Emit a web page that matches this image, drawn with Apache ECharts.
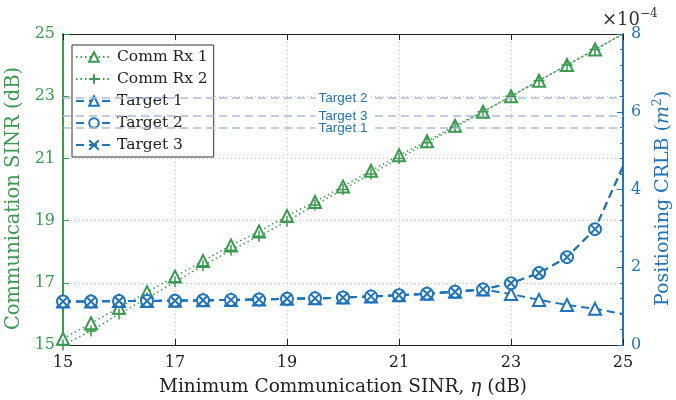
<!DOCTYPE html>
<html><head><meta charset="utf-8">
<script src="https://cdn.jsdelivr.net/npm/echarts@6/dist/echarts.min.js"></script>
<style>html,body{margin:0;padding:0;background:#fff}#c{width:676px;height:400px}</style>
</head><body><div id="c"></div>
<script>
// x values: minimum communication SINR eta (dB)
const eta = [15,15.5,16,16.5,17,17.5,18,18.5,19,19.5,20,20.5,21,21.5,22,22.5,23,23.5,24,24.5,25];
// Communication SINR (dB)
const commRx1 = [15.2,15.7,16.2,16.7,17.2,17.7,18.2,18.65,19.15,19.6,20.1,20.6,21.1,21.55,22.05,22.5,23.0,23.5,24.0,24.5,25.0];
const commRx2 = [15.0,15.45,16.0,16.5,17.03,17.55,18.05,18.5,18.98,19.5,20.0,20.5,21.0,21.5,22.0,22.5,23.0,23.5,24.0,24.5,25.0];
// Positioning CRLB (x1e-4 m^2)
const target1 = [1.12,1.12,1.13,1.13,1.14,1.15,1.16,1.17,1.19,1.2,1.22,1.25,1.28,1.32,1.37,1.43,1.31,1.16,1.03,0.93,0.80];
const target2 = [1.12,1.12,1.13,1.13,1.14,1.15,1.16,1.17,1.19,1.2,1.22,1.25,1.28,1.32,1.37,1.43,1.59,1.85,2.26,2.98,4.6];
const target3 = [1.12,1.12,1.13,1.13,1.14,1.15,1.16,1.17,1.19,1.2,1.22,1.25,1.28,1.32,1.37,1.43,1.59,1.85,2.26,2.98,4.6];
// target CRLB requirements (x1e-4 m^2)
const targetNames = ['Target 1','Target 2','Target 3'];
const targetLevels = [5.58, 6.35, 5.89];

const GREEN = '#3a9a4e', BLUE = '#1f74bd', SERIF = 'DejaVu Serif';
const PLUS = 'path://M0,-1L0,1M-1,0L1,0';
const CROSS = 'path://M-1,-1L1,1M-1,1L1,-1';

function pts(ys){
  return eta.map((x,i)=> i===eta.length-1 ? {value:[x,ys[i]], symbol:'none'} : [x,ys[i]]);
}
const chart = echarts.init(document.getElementById('c'), null, {renderer:'canvas'});
const dotted = {type:[1.5,3], width:1.5, color:GREEN};
const dashed = {type:[8,5], width:2, color:BLUE};
chart.setOption({
  animation:false,
  textStyle:{fontFamily:SERIF},
  title:{text:'×10{s|−4}', left:597, top:3, textStyle:{fontFamily:SERIF, fontSize:18, fontWeight:'normal', color:'#333', rich:{s:{fontSize:12, verticalAlign:'top', padding:[0,0,12,0], fontFamily:SERIF, color:'#333'}}}},
  grid:{left:63, right:53, top:34, bottom:55, outerBoundsMode:'none'},
  legend:{
    orient:'vertical', left:72, top:45, itemWidth:36, itemHeight:12, itemGap:6,
    padding:[4,6,4,3], backgroundColor:'#fff', borderColor:'#333', borderWidth:1,
    textStyle:{fontFamily:SERIF, fontSize:15.5, color:'#222'},
    data:['Comm Rx 1','Comm Rx 2','Target 1','Target 2','Target 3']
  },
  xAxis:[{
    type:'value', min:15, max:25, interval:2, position:'bottom',
    name:'Minimum Communication SINR, {i|η} (dB)', nameLocation:'middle', nameGap:33,
    nameTextStyle:{fontFamily:SERIF, fontSize:18.5, color:'#222', rich:{i:{fontFamily:SERIF, fontStyle:'italic', fontSize:18.5, color:'#222'}}},
    axisLine:{lineStyle:{color:'#222', width:1}},
    axisTick:{inside:true, length:6, lineStyle:{color:'#222'}},
    axisLabel:{fontFamily:SERIF, fontSize:16, color:'#222', margin:10},
    splitLine:{show:true, lineStyle:{type:[1,3], color:'#c8c8c8'}}
  },{
    type:'value', min:15, max:25, interval:2, position:'top',
    axisLine:{lineStyle:{color:'#222', width:1}},
    axisTick:{inside:true, length:6, lineStyle:{color:'#222'}},
    axisLabel:{show:false}, splitLine:{show:false}
  }],
  yAxis:[{
    type:'value', min:15, max:25, interval:2, position:'left',
    name:'Communication SINR (dB)', nameLocation:'middle', nameGap:37,
    nameTextStyle:{fontFamily:SERIF, fontSize:19.5, color:GREEN, padding:[0,18,0,0]},
    axisLine:{show:true, lineStyle:{color:GREEN, width:2}},
    axisTick:{inside:true, length:6, lineStyle:{color:GREEN}},
    axisLabel:{fontFamily:SERIF, fontSize:16, color:GREEN, margin:8},
    splitLine:{show:true, lineStyle:{type:[1,3], color:'#c8c8c8'}}
  },{
    type:'value', min:0, max:8, interval:2, position:'right',
    name:'{a|Positioning CRLB (}{i|m}{s|2}{a|)}', nameLocation:'middle', nameGap:26,
    nameTextStyle:{padding:[0,18,0,0], rich:{
      a:{fontFamily:SERIF, fontSize:19, color:BLUE},
      i:{fontFamily:SERIF, fontSize:19, fontStyle:'italic', color:BLUE},
      s:{fontFamily:SERIF, fontSize:12, color:BLUE, verticalAlign:'top', padding:[0,0,10,0]}}},
    axisLine:{show:true, lineStyle:{color:BLUE, width:2}},
    axisTick:{inside:true, length:6, lineStyle:{color:BLUE}},
    minorTick:{show:true, splitNumber:5, length:3, lineStyle:{color:BLUE}},
    axisLabel:{fontFamily:SERIF, fontSize:16, color:BLUE, margin:8},
    splitLine:{show:false}
  }],
  series:[
    {name:'Comm Rx 1', type:'line', yAxisIndex:0, data:pts(commRx1), symbol:'emptyTriangle', symbolSize:12,
     lineStyle:dotted, itemStyle:{color:GREEN, borderWidth:1.5}, z:3},
    {name:'Comm Rx 2', type:'line', yAxisIndex:0, data:pts(commRx2), symbol:PLUS, symbolSize:11,
     lineStyle:dotted, itemStyle:{color:'rgba(0,0,0,0)', borderColor:GREEN, borderWidth:1.5}, z:3},
    {name:'Target 1', type:'line', yAxisIndex:1, data:pts(target1), symbol:'emptyTriangle', symbolSize:12,
     lineStyle:dashed, itemStyle:{color:BLUE, borderWidth:1.5}, z:4,
     markLine:{silent:true, symbol:'none', animation:false,
       lineStyle:{color:'#a9bddc', type:[8,5], width:1.5},
       label:{show:true, position:'middle', distance:0, verticalAlign:'middle', formatter:'{b}',
         fontFamily:'Liberation Sans', fontSize:13.5, color:BLUE, backgroundColor:'#fff', padding:[0,3]},
       data:targetNames.map((n,i)=>({name:n, yAxis:targetLevels[i]}))}},
    {name:'Target 2', type:'line', yAxisIndex:1, data:pts(target2), symbol:'emptyCircle', symbolSize:12,
     lineStyle:dashed, itemStyle:{color:BLUE, borderWidth:1.5}, z:4},
    {name:'Target 3', type:'line', yAxisIndex:1, data:pts(target3), symbol:CROSS, symbolSize:8,
     lineStyle:dashed, itemStyle:{color:'rgba(0,0,0,0)', borderColor:BLUE, borderWidth:2}, z:4}
  ]
});
</script></body></html>
